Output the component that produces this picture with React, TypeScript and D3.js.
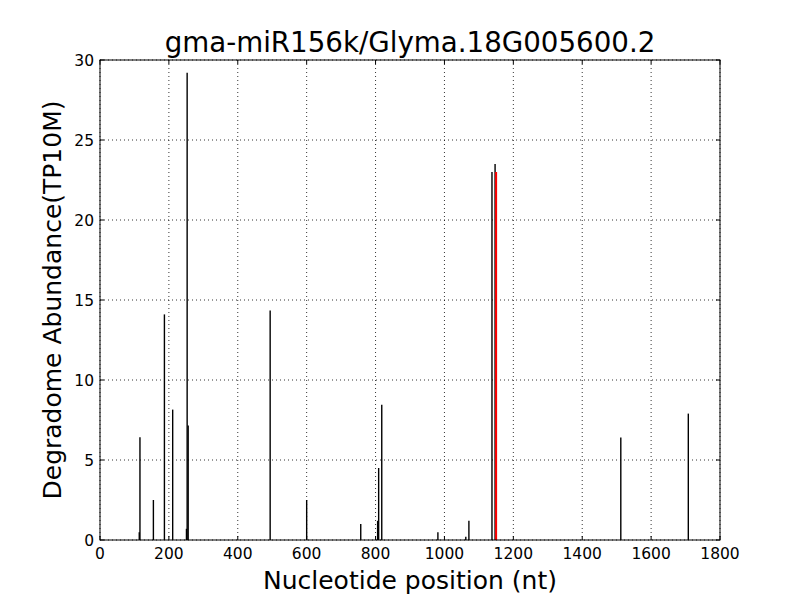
import React from "react";
import * as d3 from "d3";

const positions = [114, 116, 155, 187, 211, 251, 253, 256, 494, 600, 757, 806, 809, 818, 981, 1062, 1071, 1138, 1147, 1512, 1708];
const abundances = [0.48, 6.42, 2.5, 14.1, 8.15, 0.7, 29.2, 7.15, 14.35, 2.5, 1.0, 1.2, 4.5, 8.45, 0.48, 0.2, 1.2, 23.0, 23.5, 6.4, 7.9];
const targetPositions = [1150];
const targetAbundances = [23.0];
const xTicks = [0, 200, 400, 600, 800, 1000, 1200, 1400, 1600, 1800];
const yTicks = [0, 5, 10, 15, 20, 25, 30];

const W = 800, H = 600;
const M = { left: 100, right: 720, top: 60, bottom: 540 };
const FONT = "DejaVu Sans, sans-serif";

export default function App() {
  const x = d3.scaleLinear().domain([0, 1800]).range([M.left, M.right]);
  const y = d3.scaleLinear().domain([0, 30]).range([M.bottom, M.top]);
  const tl = 4;
  return (
    <svg width={W} height={H} style={{ position: "absolute", left: 0, top: 0, background: "#fff" }}>
      <rect x={0} y={0} width={W} height={H} fill="#fff" />
      {xTicks.map((t) => (
        <line key={"gx" + t} x1={x(t)} x2={x(t)} y1={M.top} y2={M.bottom} stroke="#000" strokeWidth={0.8} strokeDasharray="1,3" />
      ))}
      {yTicks.map((t) => (
        <line key={"gy" + t} x1={M.left} x2={M.right} y1={y(t)} y2={y(t)} stroke="#000" strokeWidth={0.8} strokeDasharray="1,3" />
      ))}
      {positions.map((p, i) => (
        <line key={"b" + i} x1={x(p)} x2={x(p)} y1={y(0)} y2={y(abundances[i])} stroke="#000" strokeWidth={1.4} />
      ))}
      {targetPositions.map((p, i) => (
        <line key={"r" + i} x1={x(p)} x2={x(p)} y1={y(0)} y2={y(targetAbundances[i])} stroke="#ff0000" strokeWidth={2} />
      ))}
      {xTicks.map((t) => (
        <g key={"tx" + t}>
          <line x1={x(t)} x2={x(t)} y1={M.bottom} y2={M.bottom - tl} stroke="#000" />
          <line x1={x(t)} x2={x(t)} y1={M.top} y2={M.top + tl} stroke="#000" />
          <text x={x(t)} y={M.bottom + 19} textAnchor="middle" fontFamily={FONT} fontSize={15.5}>{t}</text>
        </g>
      ))}
      {yTicks.map((t) => (
        <g key={"ty" + t}>
          <line x1={M.left} x2={M.left + tl} y1={y(t)} y2={y(t)} stroke="#000" />
          <line x1={M.right} x2={M.right - tl} y1={y(t)} y2={y(t)} stroke="#000" />
          <text x={M.left - 6} y={y(t) + 5.5} textAnchor="end" fontFamily={FONT} fontSize={15.5}>{t}</text>
        </g>
      ))}
      <rect x={M.left} y={M.top} width={M.right - M.left} height={M.bottom - M.top} fill="none" stroke="#000" strokeWidth={1} />
      <text x={(M.left + M.right) / 2} y={52} textAnchor="middle" fontFamily={FONT} fontSize={27.7}>gma-miR156k/Glyma.18G005600.2</text>
      <text x={(M.left + M.right) / 2} y={589} textAnchor="middle" fontFamily={FONT} fontSize={25}>Nucleotide position (nt)</text>
      <text transform={`translate(61,${(M.top + M.bottom) / 2}) rotate(-90)`} textAnchor="middle" fontFamily={FONT} fontSize={25}>Degradome Abundance(TP10M)</text>
    </svg>
  );
}
